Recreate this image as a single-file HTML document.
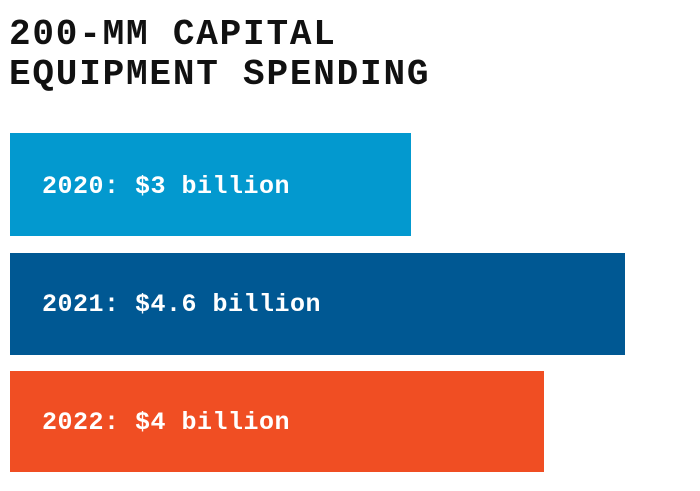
<!DOCTYPE html>
<html><head><style>
body{margin:0;width:700px;height:491px;background:#fff;overflow:hidden;position:relative;font-family:"Liberation Mono",monospace;}
.t{position:absolute;left:9px;font-size:36px;font-weight:bold;letter-spacing:1.8px;color:#111;line-height:1;}
.b{position:absolute;left:10px;}
.l{position:absolute;left:42px;font-size:25px;font-weight:bold;color:#fff;letter-spacing:0.5px;line-height:1;}
</style></head><body>
<div class="t" style="top:17px">200-MM CAPITAL</div>
<div class="t" style="top:57px">EQUIPMENT SPENDING</div>
<div class="b" style="top:133px;width:401px;height:103px;background:#0399cf"></div>
<div class="b" style="top:253px;width:615px;height:102px;background:#005893"></div>
<div class="b" style="top:371px;width:534px;height:101px;background:#f04e23"></div>
<div class="l" style="top:174px">2020: $3 billion</div>
<div class="l" style="top:292px">2021: $4.6 billion</div>
<div class="l" style="top:410px">2022: $4 billion</div>
</body></html>
